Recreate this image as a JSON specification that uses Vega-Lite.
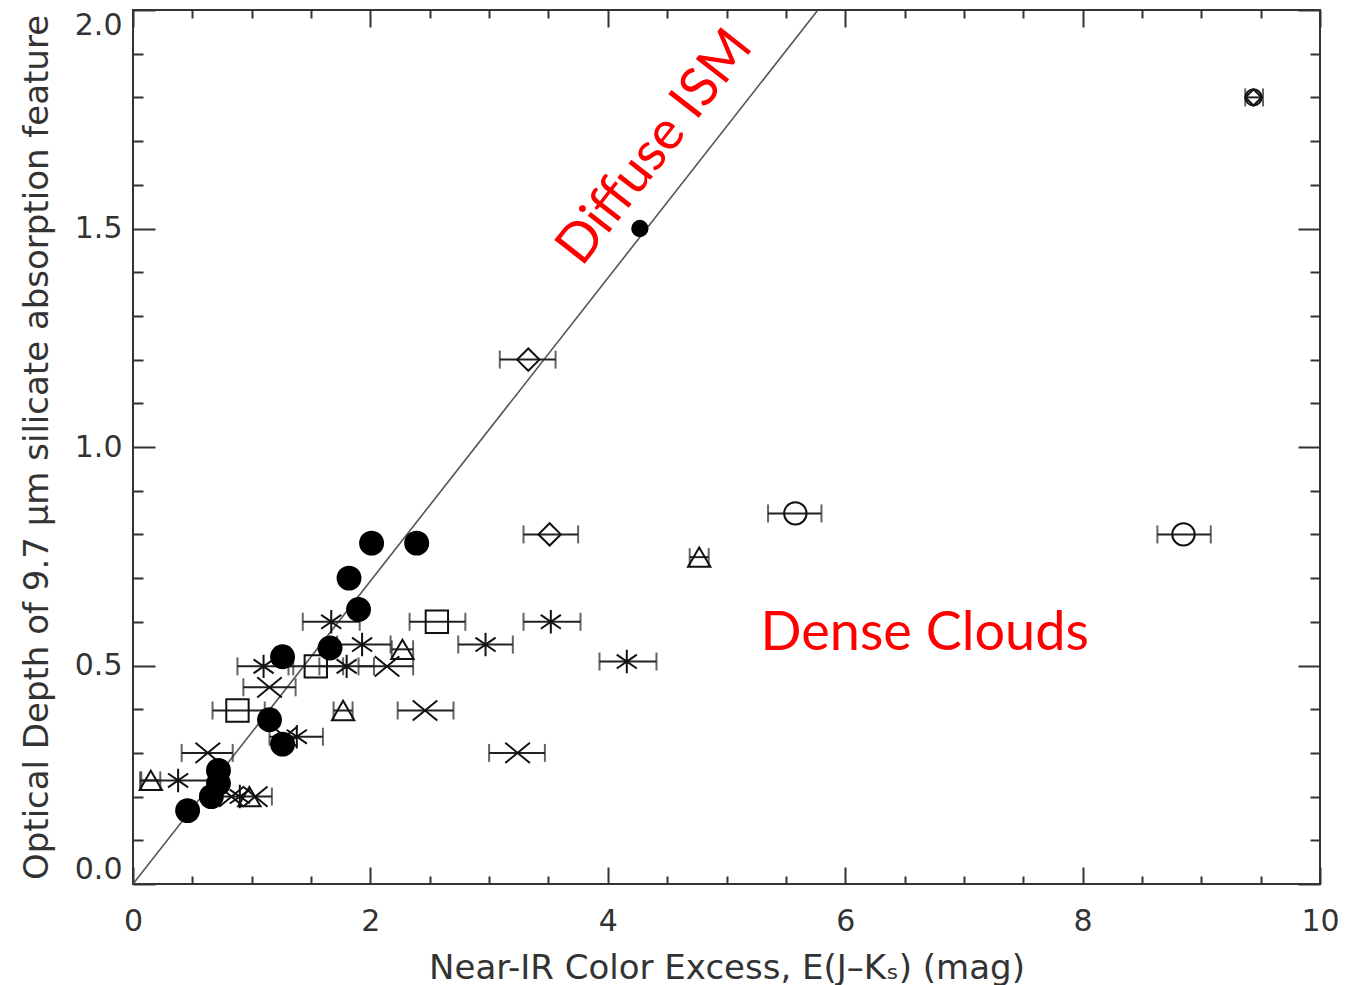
{
  "$schema": "https://vega.github.io/schema/vega-lite/v6.json",
  "width": 1187,
  "height": 874,
  "autosize": {"type": "none"},
  "padding": {"left": 133, "top": 10, "right": 35, "bottom": 101},
  "background": "white",
  "config": {
    "view": {"stroke": "#333", "strokeWidth": 2},
    "axis": {
      "labelFont": "DejaVu Sans",
      "labelFontSize": 30,
      "labelColor": "#333",
      "titleFont": "DejaVu Sans",
      "titleFontSize": 34,
      "titleFontWeight": "normal",
      "titleColor": "#333",
      "grid": false,
      "domain": false,
      "tickColor": "#333",
      "tickWidth": 2,
      "labelFlush": false,
      "labelOverlap": false
    }
  },
  "datasets": {
    "pts": [
      {"x": 0.46, "y": 0.168, "sym": "filled"},
      {"x": 0.66, "y": 0.2, "sym": "filled"},
      {"x": 0.72, "y": 0.23, "sym": "filled"},
      {"x": 0.72, "y": 0.26, "sym": "filled"},
      {"x": 1.15, "y": 0.376, "sym": "filled"},
      {"x": 1.26, "y": 0.32, "sym": "filled"},
      {"x": 1.26, "y": 0.52, "sym": "filled"},
      {"x": 1.66, "y": 0.54, "sym": "filled"},
      {"x": 1.9, "y": 0.628, "sym": "filled"},
      {"x": 1.82, "y": 0.7, "sym": "filled"},
      {"x": 2.01, "y": 0.78, "sym": "filled"},
      {"x": 2.39, "y": 0.78, "sym": "filled"},
      {"x": 4.27, "y": 1.5, "sym": "filled"},
      {"x": 3.33, "y": 1.2, "xlo": 3.09, "xhi": 3.56, "sym": "diamond"},
      {"x": 3.51, "y": 0.8, "xlo": 3.29, "xhi": 3.75, "sym": "diamond"},
      {"x": 9.44, "y": 1.8, "xlo": 9.37, "xhi": 9.52, "sym": "diamond"},
      {"x": 9.44, "y": 1.8, "sym": "circle"},
      {"x": 5.58, "y": 0.848, "xlo": 5.35, "xhi": 5.8, "sym": "circle"},
      {"x": 8.85, "y": 0.8, "xlo": 8.63, "xhi": 9.08, "sym": "circle"},
      {"x": 4.77, "y": 0.748, "xlo": 4.69, "xhi": 4.85, "sym": "triangle"},
      {"x": 0.15, "y": 0.237, "xlo": 0.07, "xhi": 0.23, "sym": "triangle"},
      {"x": 1.77, "y": 0.397, "xlo": 1.69, "xhi": 1.85, "sym": "triangle"},
      {"x": 2.27, "y": 0.537, "xlo": 2.18, "xhi": 2.36, "sym": "triangle"},
      {"x": 0.98, "y": 0.2, "sym": "triangle"},
      {"x": 2.56, "y": 0.6, "xlo": 2.33, "xhi": 2.8, "sym": "square"},
      {"x": 0.88, "y": 0.397, "xlo": 0.67, "xhi": 1.11, "sym": "square"},
      {"x": 1.54, "y": 0.498, "xlo": 1.31, "xhi": 1.77, "sym": "square"},
      {"x": 3.52, "y": 0.6, "xlo": 3.29, "xhi": 3.77, "sym": "asterisk"},
      {"x": 2.97, "y": 0.548, "xlo": 2.74, "xhi": 3.2, "sym": "asterisk"},
      {"x": 4.16, "y": 0.509, "xlo": 3.93, "xhi": 4.41, "sym": "asterisk"},
      {"x": 1.67, "y": 0.6, "xlo": 1.43, "xhi": 1.91, "sym": "asterisk"},
      {"x": 1.93, "y": 0.548, "xlo": 1.72, "xhi": 2.17, "sym": "asterisk"},
      {"x": 1.1, "y": 0.498, "xlo": 0.88, "xhi": 1.35, "sym": "asterisk"},
      {"x": 1.8, "y": 0.498, "xlo": 1.57, "xhi": 2.03, "sym": "asterisk"},
      {"x": 0.38, "y": 0.237, "xlo": 0.06, "xhi": 0.7, "sym": "asterisk"},
      {"x": 1.38, "y": 0.337, "xlo": 1.15, "xhi": 1.6, "sym": "asterisk"},
      {"x": 0.9, "y": 0.2, "sym": "asterisk"},
      {"x": 3.24, "y": 0.3, "xlo": 3.0, "xhi": 3.47, "sym": "cross"},
      {"x": 2.46, "y": 0.397, "xlo": 2.23, "xhi": 2.7, "sym": "cross"},
      {"x": 0.63, "y": 0.3, "xlo": 0.41, "xhi": 0.84, "sym": "cross"},
      {"x": 1.15, "y": 0.45, "xlo": 0.93, "xhi": 1.37, "sym": "cross"},
      {"x": 2.14, "y": 0.498, "xlo": 1.9, "xhi": 2.36, "sym": "cross"},
      {"x": 0.83, "y": 0.2, "xlo": 0.73, "xhi": 1.17, "sym": "cross"},
      {"x": 1.03, "y": 0.2, "sym": "cross"},
      {"x": 1.28, "y": 0.337, "sym": "cross"}
    ],
    "diag": [
      {"x": 0, "y": 0},
      {"x": 5.77, "y": 2.0}
    ]
  },
  "layer": [
    {
      "layer": [
        {
          "data": {"name": "diag"},
          "mark": {"type": "line", "color": "#555", "strokeWidth": 1.6, "clip": true},
          "encoding": {
            "x": {
              "field": "x", "type": "quantitative",
              "scale": {"domain": [0, 10], "nice": false, "zero": false},
              "title": "Near-IR Color Excess, E(J–Kₛ) (mag)",
              "axis": {
                "orient": "bottom",
                "values": [0, 0.5, 1, 1.5, 2, 2.5, 3, 3.5, 4, 4.5, 5, 5.5, 6, 6.5, 7, 7.5, 8, 8.5, 9, 9.5, 10],
                "tickSize": {"condition": {"test": "datum.value % 2 === 0", "value": -17}, "value": -8},
                "labelExpr": "datum.value % 2 === 0 ? format(datum.value, 'd') : ''",
                "labelPadding": 39,
                "titlePadding": 6
              }
            },
            "y": {
              "field": "y", "type": "quantitative",
              "scale": {"domain": [0, 2], "nice": false, "zero": false},
              "title": "Optical Depth of 9.7 μm silicate absorption feature",
              "axis": {
                "orient": "left",
                "values": [0, 0.1, 0.2, 0.3, 0.4, 0.5, 0.6, 0.7, 0.8, 0.9, 1, 1.1, 1.2, 1.3, 1.4, 1.5, 1.6, 1.7, 1.8, 1.9, 2],
                "tickSize": {"condition": {"test": "abs(datum.value*2 - round(datum.value*2)) < 0.000001", "value": -22}, "value": -10},
                "labelExpr": "abs(datum.value*2 - round(datum.value*2)) < 0.000001 ? format(datum.value, '.1f') : ''",
                "labelPadding": 33,
                "labelFlush": true,
                "titlePadding": 20
              }
            }
          }
        },
        {
          "data": {"name": "pts"},
          "transform": [{"filter": "isValid(datum.xlo)"}],
          "mark": {"type": "rule", "color": "#222", "strokeWidth": 2},
          "encoding": {
            "x": {"field": "xlo", "type": "quantitative", "scale": {"domain": [0, 10], "nice": false, "zero": false}, "title": "Near-IR Color Excess, E(J–Kₛ) (mag)"},
            "x2": {"field": "xhi"},
            "y": {"field": "y", "type": "quantitative", "scale": {"domain": [0, 2], "nice": false, "zero": false}, "title": "Optical Depth of 9.7 μm silicate absorption feature"}
          }
        },
        {
          "data": {"name": "pts"},
          "transform": [
            {"filter": "isValid(datum.xlo)"},
            {"fold": ["xlo", "xhi"], "as": ["end", "xv"]}
          ],
          "mark": {"type": "tick", "orient": "vertical", "color": "#222", "size": 18, "thickness": 2},
          "encoding": {
            "x": {"field": "xv", "type": "quantitative", "scale": {"domain": [0, 10], "nice": false, "zero": false}, "title": "Near-IR Color Excess, E(J–Kₛ) (mag)"},
            "y": {"field": "y", "type": "quantitative", "scale": {"domain": [0, 2], "nice": false, "zero": false}, "title": "Optical Depth of 9.7 μm silicate absorption feature"}
          }
        },
        {
          "data": {"name": "pts"},
          "transform": [{"filter": "datum.sym !== 'filled'"}],
          "mark": {"type": "point", "filled": false, "strokeWidth": 2, "color": "#111", "opacity": 1},
          "encoding": {
            "x": {"field": "x", "type": "quantitative", "scale": {"domain": [0, 10], "nice": false, "zero": false}, "title": "Near-IR Color Excess, E(J–Kₛ) (mag)"},
            "y": {"field": "y", "type": "quantitative", "scale": {"domain": [0, 2], "nice": false, "zero": false}, "title": "Optical Depth of 9.7 μm silicate absorption feature"},
            "size": {"condition": {"test": "datum.x > 9.3", "value": 260}, "value": 500},
            "shape": {
              "field": "sym", "type": "nominal", "legend": null,
              "scale": {
                "domain": ["diamond", "circle", "triangle", "square", "asterisk", "cross"],
                "range": ["diamond", "circle", "triangle-up", "square",
                  "M0,-1.05L0,1.05M-0.9,-0.62L0.9,0.62M-0.9,0.62L0.9,-0.62",
                  "M-1.1,-0.9L1.1,0.9M-1.1,0.9L1.1,-0.9"]
              }
            }
          }
        },
        {
          "data": {"name": "pts"},
          "transform": [{"filter": "datum.sym === 'filled'"}],
          "mark": {"type": "circle", "color": "#000", "opacity": 1},
          "encoding": {
            "x": {"field": "x", "type": "quantitative", "scale": {"domain": [0, 10], "nice": false, "zero": false}, "title": "Near-IR Color Excess, E(J–Kₛ) (mag)"},
            "y": {"field": "y", "type": "quantitative", "scale": {"domain": [0, 2], "nice": false, "zero": false}, "title": "Optical Depth of 9.7 μm silicate absorption feature"},
            "size": {"condition": {"test": "datum.y > 1.4", "value": 300}, "value": 620}
          }
        },
        {
          "data": {"values": [{"label": "Diffuse ISM"}]},
          "mark": {"type": "text", "font": "Lato", "fontSize": 54, "color": "#FF0000", "angle": -52, "align": "center", "baseline": "middle"},
          "encoding": {
            "x": {"datum": 4.4, "type": "quantitative", "scale": {"domain": [0, 10], "nice": false, "zero": false}, "title": "Near-IR Color Excess, E(J–Kₛ) (mag)"},
            "y": {"datum": 1.685, "type": "quantitative", "scale": {"domain": [0, 2], "nice": false, "zero": false}, "title": "Optical Depth of 9.7 μm silicate absorption feature"},
            "text": {"field": "label"}
          }
        },
        {
          "data": {"values": [{"label": "Dense Clouds"}]},
          "mark": {"type": "text", "font": "Lato", "fontSize": 54, "color": "#FF0000", "align": "center", "baseline": "middle"},
          "encoding": {
            "x": {"datum": 6.67, "type": "quantitative", "scale": {"domain": [0, 10], "nice": false, "zero": false}, "title": "Near-IR Color Excess, E(J–Kₛ) (mag)"},
            "y": {"datum": 0.571, "type": "quantitative", "scale": {"domain": [0, 2], "nice": false, "zero": false}, "title": "Optical Depth of 9.7 μm silicate absorption feature"},
            "text": {"field": "label"}
          }
        }
      ]
    },
    {
      "data": {"name": "diag"},
      "mark": {"type": "point", "opacity": 0},
      "encoding": {
        "x": {
          "field": "x", "type": "quantitative",
          "scale": {"domain": [0, 10], "nice": false, "zero": false},
          "axis": {
            "orient": "top", "title": null, "labels": false,
            "values": [0, 0.5, 1, 1.5, 2, 2.5, 3, 3.5, 4, 4.5, 5, 5.5, 6, 6.5, 7, 7.5, 8, 8.5, 9, 9.5, 10],
            "tickSize": {"condition": {"test": "datum.value % 2 === 0", "value": -17}, "value": -8}
          }
        },
        "y": {
          "field": "y", "type": "quantitative",
          "scale": {"domain": [0, 2], "nice": false, "zero": false},
          "axis": {
            "orient": "right", "title": null, "labels": false,
            "values": [0, 0.1, 0.2, 0.3, 0.4, 0.5, 0.6, 0.7, 0.8, 0.9, 1, 1.1, 1.2, 1.3, 1.4, 1.5, 1.6, 1.7, 1.8, 1.9, 2],
            "tickSize": {"condition": {"test": "abs(datum.value*2 - round(datum.value*2)) < 0.000001", "value": -22}, "value": -10}
          }
        }
      }
    }
  ],
  "resolve": {"axis": {"x": "independent", "y": "independent"}}
}
